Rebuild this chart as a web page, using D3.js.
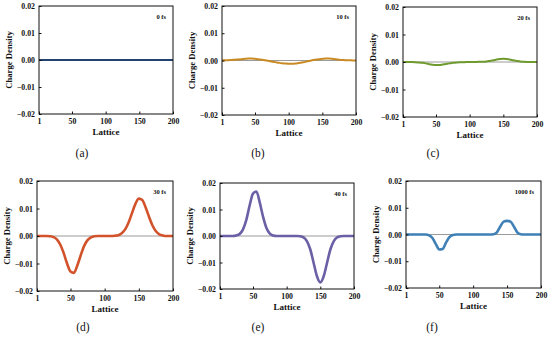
<!DOCTYPE html>
<html>
<head>
<meta charset="utf-8">
<script src="https://cdn.jsdelivr.net/npm/d3@7"></script>
<style>
  body { margin: 0; background: #fff; }
  svg { display: block; }
  text { font-family: "Liberation Serif", "Times New Roman", serif; }
</style>
</head>
<body>
<div id="chart"></div>
<script>
const lattice = [1, 5, 10, 15, 20, 25, 30, 35, 40, 45, 50, 55, 60, 65, 70, 75, 80, 85, 90, 95, 100,
  105, 110, 115, 120, 125, 130, 135, 140, 145, 150, 155, 160, 165, 170, 175, 180, 185, 190, 195, 200];

const xTicks = [1, 50, 100, 150, 200];
const yTicks = [-0.02, -0.01, 0, 0.01, 0.02];
const yTickLabels = ["\u22120.02", "\u22120.01", "0.00", "0.01", "0.02"];

const times = ["0 fs", "10 fs", "20 fs", "30 fs", "40 fs", "1000 fs"];
const captions = ["(a)", "(b)", "(c)", "(d)", "(e)", "(f)"];

const density0 = [0, 0, 0, 0, 0, 0, 0, 0, 0, 0, 0, 0, 0, 0, 0, 0, 0, 0, 0, 0, 0,
  0, 0, 0, 0, 0, 0, 0, 0, 0, 0, 0, 0, 0, 0, 0, 0, 0, 0, 0, 0];
const density10 = [0, 0.00005, 0.0001, 0.0002, 0.0003, 0.0004, 0.0005, 0.0006, 0.0007, 0.0007, 0.0006,
  0.0005, 0.0003, 0.0001, -0.0001, -0.0004, -0.0006, -0.0008, -0.0010, -0.0011, -0.0012,
  -0.0012, -0.0011, -0.0009, -0.0007, -0.0005, -0.0002, 0.0001, 0.0003, 0.0005, 0.0006,
  0.0007, 0.0007, 0.0006, 0.0005, 0.0003, 0.0002, 0.0001, 0.0001, 0, 0];
const density20 = [0, 0, 0, 0, -0.0001, -0.0002, -0.0003, -0.0005, -0.0008, -0.0010, -0.0011,
  -0.0011, -0.0009, -0.0007, -0.0005, -0.0003, -0.0002, -0.0001, -0.0001, 0, 0,
  0, 0, 0.0001, 0.0001, 0.0002, 0.0004, 0.0006, 0.0009, 0.0011, 0.0012,
  0.0011, 0.0009, 0.0006, 0.0004, 0.0002, 0.0001, 0, 0, 0, 0];
const density30 = [0, 0, 0, 0, -0.0001, -0.0004, -0.0012, -0.0031, -0.0062, -0.0100, -0.0129,
  -0.0134, -0.0107, -0.0070, -0.0036, -0.0015, -0.0005, -0.0001, 0, 0, 0,
  0, 0, 0.0001, 0.0003, 0.0010, 0.0024, 0.0049, 0.0083, 0.0117, 0.0136,
  0.0131, 0.0104, 0.0069, 0.0038, 0.0017, 0.0006, 0.0002, 0, 0, 0];
const density40 = [0, 0, 0, 0, 0, 0.0002, 0.0007, 0.0024, 0.0060, 0.0115, 0.0160,
  0.0168, 0.0127, 0.0072, 0.0030, 0.0009, 0.0002, 0, 0, 0, 0,
  0, 0, 0, -0.0001, -0.0005, -0.0019, -0.0050, -0.0101, -0.0152, -0.0175,
  -0.0152, -0.0101, -0.0050, -0.0019, -0.0005, -0.0001, 0, 0, 0, 0];
const density1000 = [0, 0, 0, 0, 0, 0, 0, -0.0003, -0.0013, -0.0036, -0.0056,
  -0.0054, -0.0030, -0.0010, -0.0002, 0, 0, 0, 0, 0, 0,
  0, 0, 0, 0, 0, 0.0001, 0.0008, 0.0030, 0.0048, 0.0051,
  0.0048, 0.0030, 0.0008, 0.0001, 0, 0, 0, 0, 0, 0];

const series = [density0, density10, density20, density30, density40, density1000];
const colors = ["#22436f", "#c98a24", "#6f9b2e", "#d2522b", "#6b60a6", "#3f80b6"];

// frame boxes of each panel
const frames = [
  { l: 39, t: 6, r: 173, b: 114, cx: 82, cy: 157 },
  { l: 222, t: 6, r: 356, b: 115, cx: 258, cy: 157 },
  { l: 403, t: 7, r: 537, b: 117, cx: 433, cy: 157 },
  { l: 37, t: 181, r: 173, b: 291, cx: 83, cy: 331 },
  { l: 220, t: 183, r: 354, b: 289, cx: 258, cy: 331 },
  { l: 406, t: 181, r: 541, b: 288, cx: 432, cy: 331 }
];

const svg = d3.select("#chart").append("svg")
  .attr("width", 550)
  .attr("height", 338);

frames.forEach(function (f, i) {
  const x = d3.scaleLinear().domain([1, 200]).range([f.l, f.r]);
  const y = d3.scaleLinear().domain([-0.02, 0.02]).range([f.b, f.t]);
  const g = svg.append("g");

  // zero reference line
  g.append("line")
    .attr("x1", f.l).attr("x2", f.r)
    .attr("y1", y(0)).attr("y2", y(0))
    .attr("stroke", "#9a9a9a")
    .attr("stroke-width", 1);

  const line = d3.line()
    .x((d, j) => x(lattice[j]))
    .y(d => y(d))
    .curve(d3.curveMonotoneX);

  g.append("path")
    .datum(series[i])
    .attr("d", line)
    .attr("fill", "none")
    .attr("stroke", colors[i])
    .attr("stroke-width", i < 3 ? 2 : 2.6);

  // axes with inward ticks
  const xAxis = d3.axisBottom(x).tickValues(xTicks).tickSize(-2.5).tickPadding(4);
  const yAxis = d3.axisLeft(y).tickValues(yTicks).tickSize(-2.5).tickPadding(4)
    .tickFormat((d, k) => yTickLabels[k]);

  const gx = g.append("g").attr("transform", `translate(0,${f.b})`).call(xAxis);
  const gy = g.append("g").attr("transform", `translate(${f.l},0)`).call(yAxis);
  [gx, gy].forEach(a => {
    a.select(".domain").remove();
    a.selectAll("text")
      .attr("font-family", "Liberation Serif")
      .attr("font-weight", "bold")
      .attr("font-size", 7.8)
      .attr("fill", "#111");
    a.selectAll("line").attr("stroke", "#111");
  });

  g.append("rect")
    .attr("x", f.l).attr("y", f.t)
    .attr("width", f.r - f.l).attr("height", f.b - f.t)
    .attr("fill", "none")
    .attr("stroke", "#111")
    .attr("stroke-width", 1);

  g.append("text")
    .attr("x", (f.l + f.r) / 2)
    .attr("y", f.b + 21)
    .attr("text-anchor", "middle")
    .attr("font-weight", "bold")
    .attr("font-size", 9)
    .attr("fill", "#111")
    .text("Lattice");

  g.append("text")
    .attr("transform", `translate(${f.l - 27},${(f.t + f.b) / 2}) rotate(-90)`)
    .attr("text-anchor", "middle")
    .attr("font-weight", "bold")
    .attr("font-size", 8.7)
    .attr("fill", "#111")
    .text("Charge Density");

  g.append("text")
    .attr("x", f.r - 7)
    .attr("y", f.t + 13)
    .attr("text-anchor", "end")
    .attr("font-weight", "bold")
    .attr("font-size", 6.5)
    .attr("fill", "#111")
    .text(times[i]);

  g.append("text")
    .attr("x", f.cx)
    .attr("y", f.cy)
    .attr("text-anchor", "middle")
    .attr("font-size", 11.5)
    .attr("fill", "#111")
    .text(captions[i]);
});
</script>
</body>
</html>
